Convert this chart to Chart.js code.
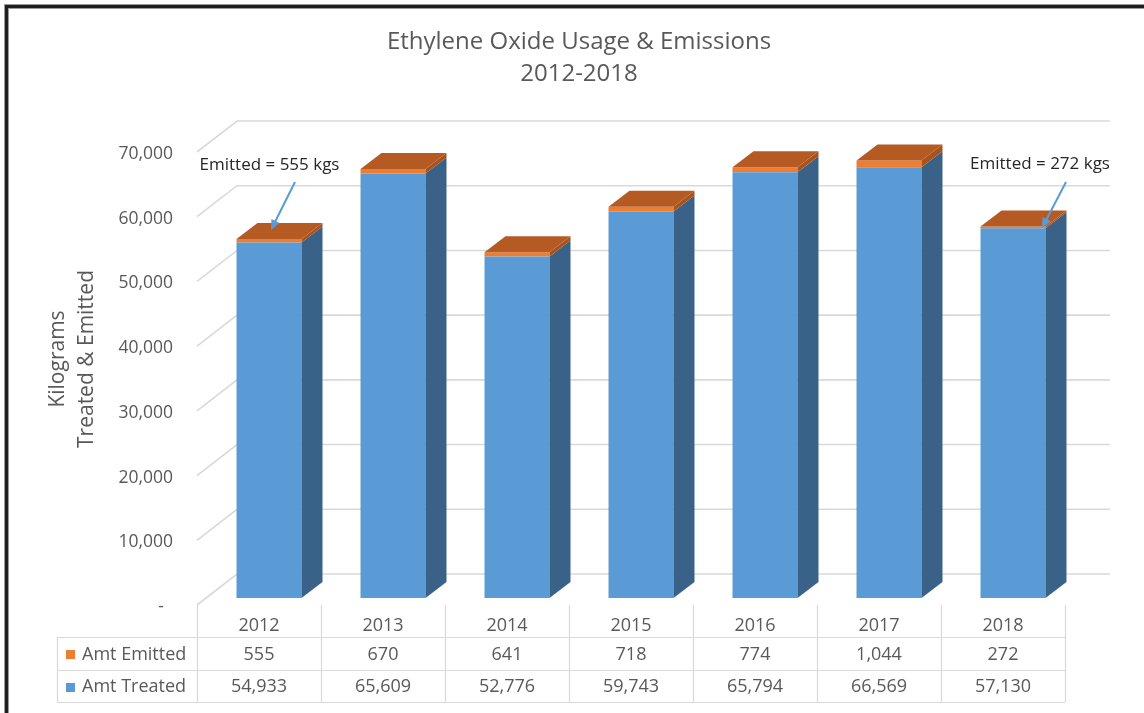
<!DOCTYPE html>
<html>
<head>
<meta charset="utf-8">
<script src="https://cdn.jsdelivr.net/npm/chart.js@4.4.0/dist/chart.umd.min.js"></script>
<style>
  html, body { margin: 0; padding: 0; background: #ffffff; }
  canvas { display: block; }
</style>
</head>
<body>
<canvas id="c" width="1144" height="713"></canvas>
<script>
// ---- data ----
const years = ['2012', '2013', '2014', '2015', '2016', '2017', '2018'];
const amtEmitted = [555, 670, 641, 718, 774, 1044, 272];
const amtTreated = [54933, 65609, 52776, 59743, 65794, 66569, 57130];
const seriesNames = ['Amt Emitted', 'Amt Treated'];
const chartTitle = ['Ethylene Oxide Usage & Emissions', '2012-2018'];
const axisTitle = ['Kilograms', 'Treated & Emitted'];
const calloutYears = ['2012', '2018'];

// ---- look ----
const FONT = '"Open Sans", Lato, sans-serif';
const TEXT = '#595959';
const GRID = '#D9D9D9';
const BLUE = '#5B9BD5', BLUE_SIDE = '#3A6288';
const ORANGE = '#ED7D31', ORANGE_SIDE = '#A9521C', ORANGE_TOP = '#B45A22';

// pseudo-3D geometry (pixels, relative to the bar front plane)
const DEPTH_X = 21, DEPTH_Y = 16;   // bar depth
const WALL_X = 30, WALL_Y = 24;     // back wall behind the bar front plane
const FLOOR_X = 10, FLOOR_Y = 7;    // front floor edge ahead of the bar front plane

const fmt = v => v.toLocaleString('en-US');

// callout placement per year: text centre, arrow tail and arrow tip offsets from the bar
const calloutLayout = {
  '2012': { tx: 0.5, ty: 165, ax: 26, ay: 182, px: 2, py: -9 },
  '2018': { tx: 27, ty: 164, ax: 53, ay: 182, px: 29, py: 1.5 }
};

function poly(ctx, pts, color) {
  ctx.beginPath();
  ctx.moveTo(pts[0][0], pts[0][1]);
  for (let i = 1; i < pts.length; i++) ctx.lineTo(pts[i][0], pts[i][1]);
  ctx.closePath();
  ctx.fillStyle = color;
  ctx.fill();
}

const scene3d = {
  id: 'scene3d',
  beforeDatasetsDraw(chart) {
    const { ctx, chartArea: a, scales: { y } } = chart;
    ctx.save();
    ctx.strokeStyle = GRID;
    ctx.lineWidth = 1.6;
    const backLeft = a.left + WALL_X;
    const backRight = a.right + 35;
    y.ticks.forEach(t => {
      const yf = y.getPixelForValue(t.value);
      const yb = yf - WALL_Y;
      ctx.beginPath();
      ctx.moveTo(a.left - FLOOR_X, yf + FLOOR_Y);
      ctx.lineTo(backLeft, yb);
      ctx.lineTo(backRight, yb);
      ctx.stroke();
    });
    ctx.restore();
  },
  afterDatasetsDraw(chart) {
    const { ctx } = chart;
    const n = chart.data.datasets.length;
    ctx.save();
    chart.data.datasets.forEach((ds, di) => {
      const meta = chart.getDatasetMeta(di);
      meta.data.forEach(bar => {
        const xl = bar.x - bar.width / 2, xr = bar.x + bar.width / 2;
        const top = Math.min(bar.y, bar.base), bot = Math.max(bar.y, bar.base);
        poly(ctx, [[xr, top], [xr + DEPTH_X, top - DEPTH_Y], [xr + DEPTH_X, bot - DEPTH_Y], [xr, bot]], ds.sideColor);
        if (di === n - 1) {
          poly(ctx, [[xl, top], [xl + DEPTH_X, top - DEPTH_Y], [xr + DEPTH_X, top - DEPTH_Y], [xr, top]], ds.topColor);
        }
      });
    });
    ctx.restore();
  },
  afterDraw(chart) {
    const { ctx, scales: { x, y } } = chart;
    ctx.save();

    // title
    ctx.fillStyle = TEXT;
    ctx.font = '24px ' + FONT;
    ctx.textAlign = 'center';
    ctx.textBaseline = 'middle';
    ctx.fillText(chartTitle[0], 579, 42);
    ctx.fillText(chartTitle[1], 579, 74);

    // vertical axis title
    ctx.save();
    ctx.translate(58, 359);
    ctx.rotate(-Math.PI / 2);
    ctx.font = '21px ' + FONT;
    ctx.fillText(axisTitle[0], 0, 0);
    ctx.fillText(axisTitle[1], 0, 29);
    ctx.restore();

    // data table below the plot
    const colW = x.width / years.length;
    const x0 = x.left - FLOOR_X;
    const xEnd = x0 + colW * years.length;
    const yTop = y.getPixelForValue(0) + FLOOR_Y;
    const rowLines = [yTop + 32, yTop + 65, yTop + 97];
    const tableLeft = 57;
    ctx.strokeStyle = GRID;
    ctx.lineWidth = 1.2;
    ctx.beginPath();
    for (let i = 0; i <= years.length; i++) {
      const xx = Math.round(x0 + i * colW) + 0.5;
      ctx.moveTo(xx, yTop);
      ctx.lineTo(xx, rowLines[2]);
    }
    rowLines.forEach(ly => {
      ctx.moveTo(tableLeft, Math.round(ly) + 0.5);
      ctx.lineTo(xEnd, Math.round(ly) + 0.5);
    });
    ctx.moveTo(tableLeft + 0.5, rowLines[0]);
    ctx.lineTo(tableLeft + 0.5, rowLines[2]);
    ctx.stroke();

    const rows = [
      { name: seriesNames[0], values: amtEmitted, color: ORANGE },
      { name: seriesNames[1], values: amtTreated, color: BLUE }
    ];
    ctx.font = '18px ' + FONT;
    ctx.textBaseline = 'middle';
    rows.forEach((r, ri) => {
      const cy = (rowLines[ri] + rowLines[ri + 1]) / 2 + 1;
      ctx.fillStyle = r.color;
      ctx.fillRect(66, Math.round(cy - 4.5), 9, 9);
      ctx.fillStyle = TEXT;
      ctx.textAlign = 'left';
      ctx.fillText(r.name, 82, cy);
      ctx.textAlign = 'center';
      r.values.forEach((v, i) => ctx.fillText(fmt(v), x0 + colW * (i + 0.5), cy));
    });

    // callouts on emitted amounts
    const topMeta = chart.getDatasetMeta(chart.data.datasets.length - 1);
    calloutYears.forEach(yr => {
      const i = years.indexOf(yr);
      const bar = topMeta.data[i];
      const L = calloutLayout[yr];
      ctx.fillStyle = '#262626';
      ctx.font = '17px ' + FONT;
      ctx.textAlign = 'center';
      ctx.fillText('Emitted = ' + fmt(amtEmitted[i]) + ' kgs', bar.x + L.tx, L.ty);
      const sx = bar.x + L.ax, sy = L.ay, ex = bar.x + L.px, ey = bar.y + L.py;
      const ang = Math.atan2(ey - sy, ex - sx);
      const head = 10;
      ctx.strokeStyle = BLUE;
      ctx.lineWidth = 2;
      ctx.beginPath();
      ctx.moveTo(sx, sy);
      ctx.lineTo(ex - Math.cos(ang) * head * 0.8, ey - Math.sin(ang) * head * 0.8);
      ctx.stroke();
      ctx.fillStyle = BLUE;
      ctx.beginPath();
      ctx.moveTo(ex, ey);
      ctx.lineTo(ex - head * Math.cos(ang) + 4.5 * Math.sin(ang), ey - head * Math.sin(ang) - 4.5 * Math.cos(ang));
      ctx.lineTo(ex - head * Math.cos(ang) - 4.5 * Math.sin(ang), ey - head * Math.sin(ang) + 4.5 * Math.cos(ang));
      ctx.closePath();
      ctx.fill();
    });

    // page frame
    ctx.fillStyle = '#9a9a9a';
    ctx.fillRect(4, 4, 1, 713);
    ctx.fillRect(4, 4, 1144, 1);
    ctx.fillRect(8, 8, 1, 713);
    ctx.fillRect(8, 8, 1144, 1);
    ctx.fillStyle = '#1e1e1e';
    ctx.fillRect(5, 5, 3, 713);
    ctx.fillRect(5, 5, 1144, 3);

    ctx.restore();
  }
};

new Chart(document.getElementById('c'), {
  type: 'bar',
  data: {
    labels: years,
    datasets: [
      { label: seriesNames[1], data: amtTreated, backgroundColor: BLUE, sideColor: BLUE_SIDE, topColor: BLUE_SIDE },
      { label: seriesNames[0], data: amtEmitted, backgroundColor: ORANGE, sideColor: ORANGE_SIDE, topColor: ORANGE_TOP }
    ]
  },
  options: {
    responsive: false,
    devicePixelRatio: 1,
    animation: false,
    layout: { padding: { left: 0, right: 69, top: 145, bottom: 0 } },
    datasets: { bar: { barPercentage: 0.524, categoryPercentage: 1, borderWidth: 0 } },
    plugins: { legend: { display: false }, tooltip: { enabled: false }, title: { display: false } },
    scales: {
      x: {
        stacked: true,
        grid: { display: false, drawTicks: false },
        border: { display: false },
        ticks: { color: TEXT, font: { family: FONT, size: 18 }, padding: 17, labelOffset: -FLOOR_X, maxRotation: 0 },
        afterFit: s => { s.height = 115; }
      },
      y: {
        stacked: true,
        min: 0,
        max: 70000,
        grid: { display: false, drawTicks: false },
        border: { display: false },
        ticks: {
          stepSize: 10000,
          color: TEXT,
          font: { family: FONT, size: 17.5 },
          padding: 34,
          labelOffset: 9,
          callback: v => v === 0 ? '-  ' : fmt(v)
        },
        afterFit: s => { s.width = 207; }
      }
    }
  },
  plugins: [scene3d]
});
</script>
</body>
</html>
